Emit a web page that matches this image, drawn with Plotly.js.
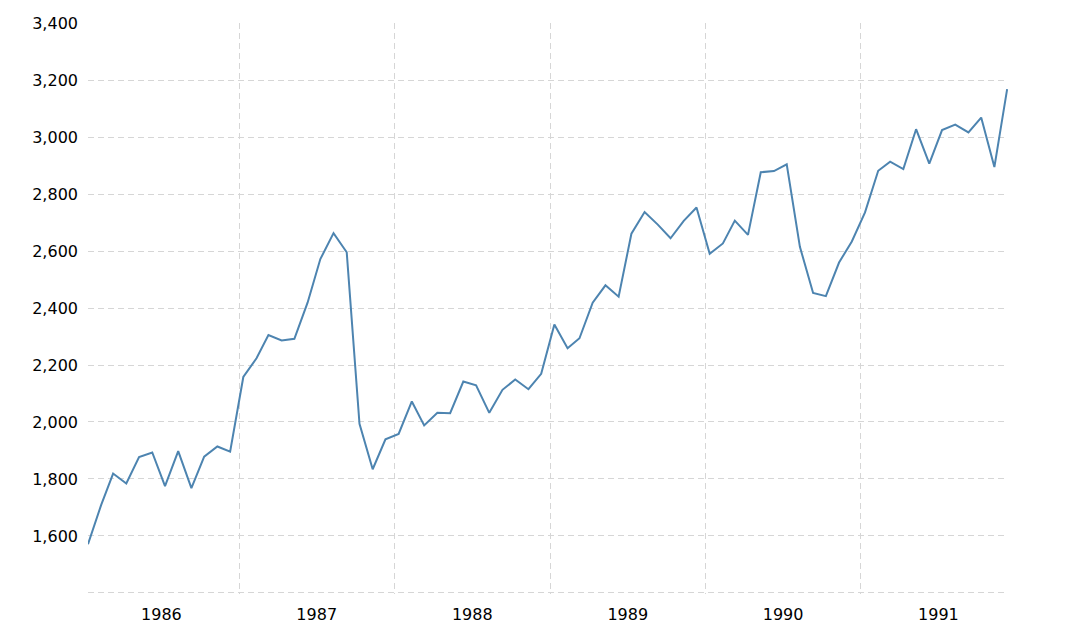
<!DOCTYPE html>
<html>
<head>
<meta charset="utf-8">
<script src="https://cdn.plot.ly/plotly-3.0.1.min.js"></script>
<style>html,body{margin:0;padding:0;background:#fff;}#chart{width:1080px;height:627px;}</style>
</head>
<body>
<div id="chart"></div>
<script>
const years = [1986, 1987, 1988, 1989, 1990, 1991];
const monthDay = '11';
const values1986 = [1571, 1709, 1819, 1784, 1877, 1893, 1775, 1898, 1768, 1878, 1914, 1896];
const values1987 = [2158, 2224, 2305, 2286, 2292, 2419, 2572, 2663, 2596, 1994, 1834, 1939];
const values1988 = [1958, 2072, 1988, 2032, 2031, 2142, 2129, 2032, 2113, 2149, 2115, 2169];
const values1989 = [2342, 2259, 2294, 2419, 2480, 2440, 2661, 2737, 2693, 2645, 2706, 2753];
const values1990 = [2591, 2627, 2707, 2657, 2877, 2881, 2905, 2615, 2453, 2442, 2560, 2634];
const values1991 = [2736, 2882, 2914, 2888, 3028, 2907, 3025, 3044, 3017, 3069, 2895, 3169];
const yTickVals = [1400, 1600, 1800, 2000, 2200, 2400, 2600, 2800, 3000, 3200, 3400];
const yTickText = ['', '1,600', '1,800', '2,000', '2,200', '2,400', '2,600', '2,800', '3,000', '3,200', '3,400'];

const allValues = [values1986, values1987, values1988, values1989, values1990, values1991];
const xs = [], ys = [];
years.forEach((yr, i) => {
  allValues[i].forEach((v, m) => {
    xs.push(yr + '-' + String(m + 1).padStart(2, '0') + '-' + monthDay);
    ys.push(v);
  });
});

const trace = {
  x: xs, y: ys, type: 'scatter', mode: 'lines',
  line: {color: '#4d84b0', width: 2},
  hoverinfo: 'x+y'
};

const layout = {
  width: 1080, height: 627,
  margin: {l: 88, r: 72, t: 23, b: 33},
  paper_bgcolor: '#fff', plot_bgcolor: '#fff',
  showlegend: false,
  font: {family: 'DejaVu Sans, Verdana, sans-serif', size: 16, color: '#000'},
  xaxis: {
    type: 'date',
    range: ['1986-01-11', '1991-12-13'],
    tick0: '1986-01-01', dtick: 'M12',
    ticklabelmode: 'period',
    tickformat: '%Y',
    showgrid: true, gridcolor: '#d6d6d6', griddash: '6px,4px', gridwidth: 1,
    zeroline: false, showline: false,
    ticks: '', ticklabelstandoff: 9,
    tickfont: {size: 16, color: '#000'}
  },
  yaxis: {
    range: [1396, 3401],
    tickmode: 'array', tickvals: yTickVals, ticktext: yTickText,
    showgrid: true, gridcolor: '#d6d6d6', griddash: '6px,4px', gridwidth: 1,
    zeroline: false, showline: false,
    ticks: '', ticklabelstandoff: 9,
    tickfont: {size: 16, color: '#000'}
  }
};

Plotly.newPlot('chart', [trace], layout, {displayModeBar: false, staticPlot: true});
</script>
</body>
</html>
